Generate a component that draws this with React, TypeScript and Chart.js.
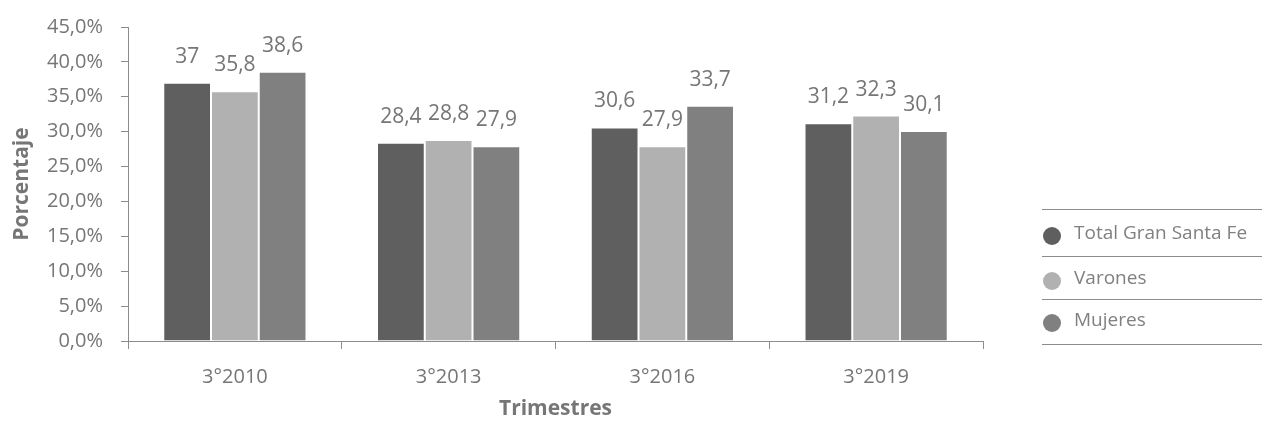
import React, { useEffect, useRef } from "react";
import { Chart, registerables } from "chart.js";

Chart.register(...registerables);

const categories = ["3°2010", "3°2013", "3°2016", "3°2019"];
const totalGranSantaFe = [37, 28.4, 30.6, 31.2];
const varones = [35.8, 28.8, 27.9, 32.3];
const mujeres = [38.6, 27.9, 33.7, 30.1];
const seriesNames = ["Total Gran Santa Fe", "Varones", "Mujeres"];
const seriesColors = ["#5f5f5f", "#b1b1b1", "#808080"];

const FONT = "'Open Sans', 'Noto Sans', sans-serif";
const TEXT = "#767676";

const fmtLabel = (v: number) => String(v).replace(".", ",");

// value labels above each bar
const valueLabels = {
  id: "valueLabels",
  afterDatasetsDraw(chart: any) {
    const ctx = chart.ctx;
    ctx.save();
    ctx.font = `21px ${FONT}`;
    ctx.fillStyle = TEXT;
    ctx.textAlign = "center";
    ctx.textBaseline = "middle";
    chart.data.datasets.forEach((ds: any, i: number) => {
      const meta = chart.getDatasetMeta(i);
      meta.data.forEach((el: any, j: number) => {
        ctx.fillText(fmtLabel(ds.data[j]), el.x, el.y - 26);
      });
    });
    ctx.restore();
  },
};

// legend drawn as a ruled list to the right of the plot
const ruledLegend = {
  id: "ruledLegend",
  afterDraw(chart: any) {
    const ctx = chart.ctx;
    const x0 = 1042;
    const x1 = 1262;
    const rules = [209, 256, 299, 344];
    const rows = [234, 279, 321];
    ctx.save();
    ctx.strokeStyle = "#8c8c8c";
    ctx.lineWidth = 1;
    rules.forEach((y) => {
      ctx.beginPath();
      ctx.moveTo(x0, y + 0.5);
      ctx.lineTo(x1, y + 0.5);
      ctx.stroke();
    });
    ctx.font = `19px ${FONT}`;
    ctx.textBaseline = "middle";
    ctx.textAlign = "left";
    seriesNames.forEach((name, i) => {
      ctx.fillStyle = seriesColors[i];
      ctx.beginPath();
      ctx.arc(1052, rows[i] + 2, 9, 0, Math.PI * 2);
      ctx.fill();
      ctx.fillStyle = "#808080";
      ctx.fillText(name, 1074, rows[i]);
    });
    ctx.restore();
  },
};

export default function App() {
  const canvasRef = useRef<HTMLCanvasElement | null>(null);

  useEffect(() => {
    document.body.style.margin = "0";
    const canvas = canvasRef.current;
    if (!canvas) return;
    const chart = new Chart(canvas, {
      type: "bar",
      data: {
        labels: categories,
        datasets: [totalGranSantaFe, varones, mujeres].map((data, i) => ({
          label: seriesNames[i],
          data,
          backgroundColor: seriesColors[i],
          borderColor: "rgba(255,255,255,0.35)",
          borderWidth: 1,
          categoryPercentage: 0.67,
          barPercentage: 1,
        })),
      },
      options: {
        animation: false,
        responsive: false,
        maintainAspectRatio: false,
        layout: { padding: { top: 27, right: 279, bottom: 0, left: 0 } },
        plugins: {
          legend: { display: false },
          tooltip: { enabled: false },
        },
        scales: {
          x: {
            grid: {
              display: true,
              drawOnChartArea: false,
              drawTicks: true,
              tickLength: 8,
              color: "#8c8c8c",
              offset: true,
            },
            border: { color: "#8c8c8c" },
            ticks: { color: TEXT, font: { family: FONT, size: 20 }, padding: 16 },
            title: {
              display: true,
              text: "Trimestres",
              color: TEXT,
              font: { family: FONT, size: 21, weight: "bold" },
              padding: { top: 6, bottom: 0 },
            },
            afterFit(scale: any) {
              scale.height = 81;
            },
          },
          y: {
            min: 0,
            max: 45,
            ticks: {
              stepSize: 5,
              color: TEXT,
              font: { family: FONT, size: 20 },
              padding: 18,
              callback: (v: any) => Number(v).toFixed(1).replace(".", ",") + "%",
            },
            grid: {
              display: true,
              drawOnChartArea: false,
              drawTicks: true,
              tickLength: 7,
              color: "#8c8c8c",
            },
            border: { color: "#8c8c8c" },
            title: {
              display: true,
              text: "Porcentaje",
              color: TEXT,
              font: { family: FONT, size: 21, weight: "bold" },
              padding: { top: 9, bottom: 4 },
            },
            afterFit(scale: any) {
              scale.width = 128;
              scale.paddingTop = 0;
              scale.paddingBottom = 0;
            },
          },
        },
      },
      plugins: [valueLabels, ruledLegend],
    });
    return () => chart.destroy();
  }, []);

  return (
    <div style={{ width: 1262, height: 422 }}>
      <canvas ref={canvasRef} width={1262} height={422} style={{ display: "block" }} />
    </div>
  );
}
